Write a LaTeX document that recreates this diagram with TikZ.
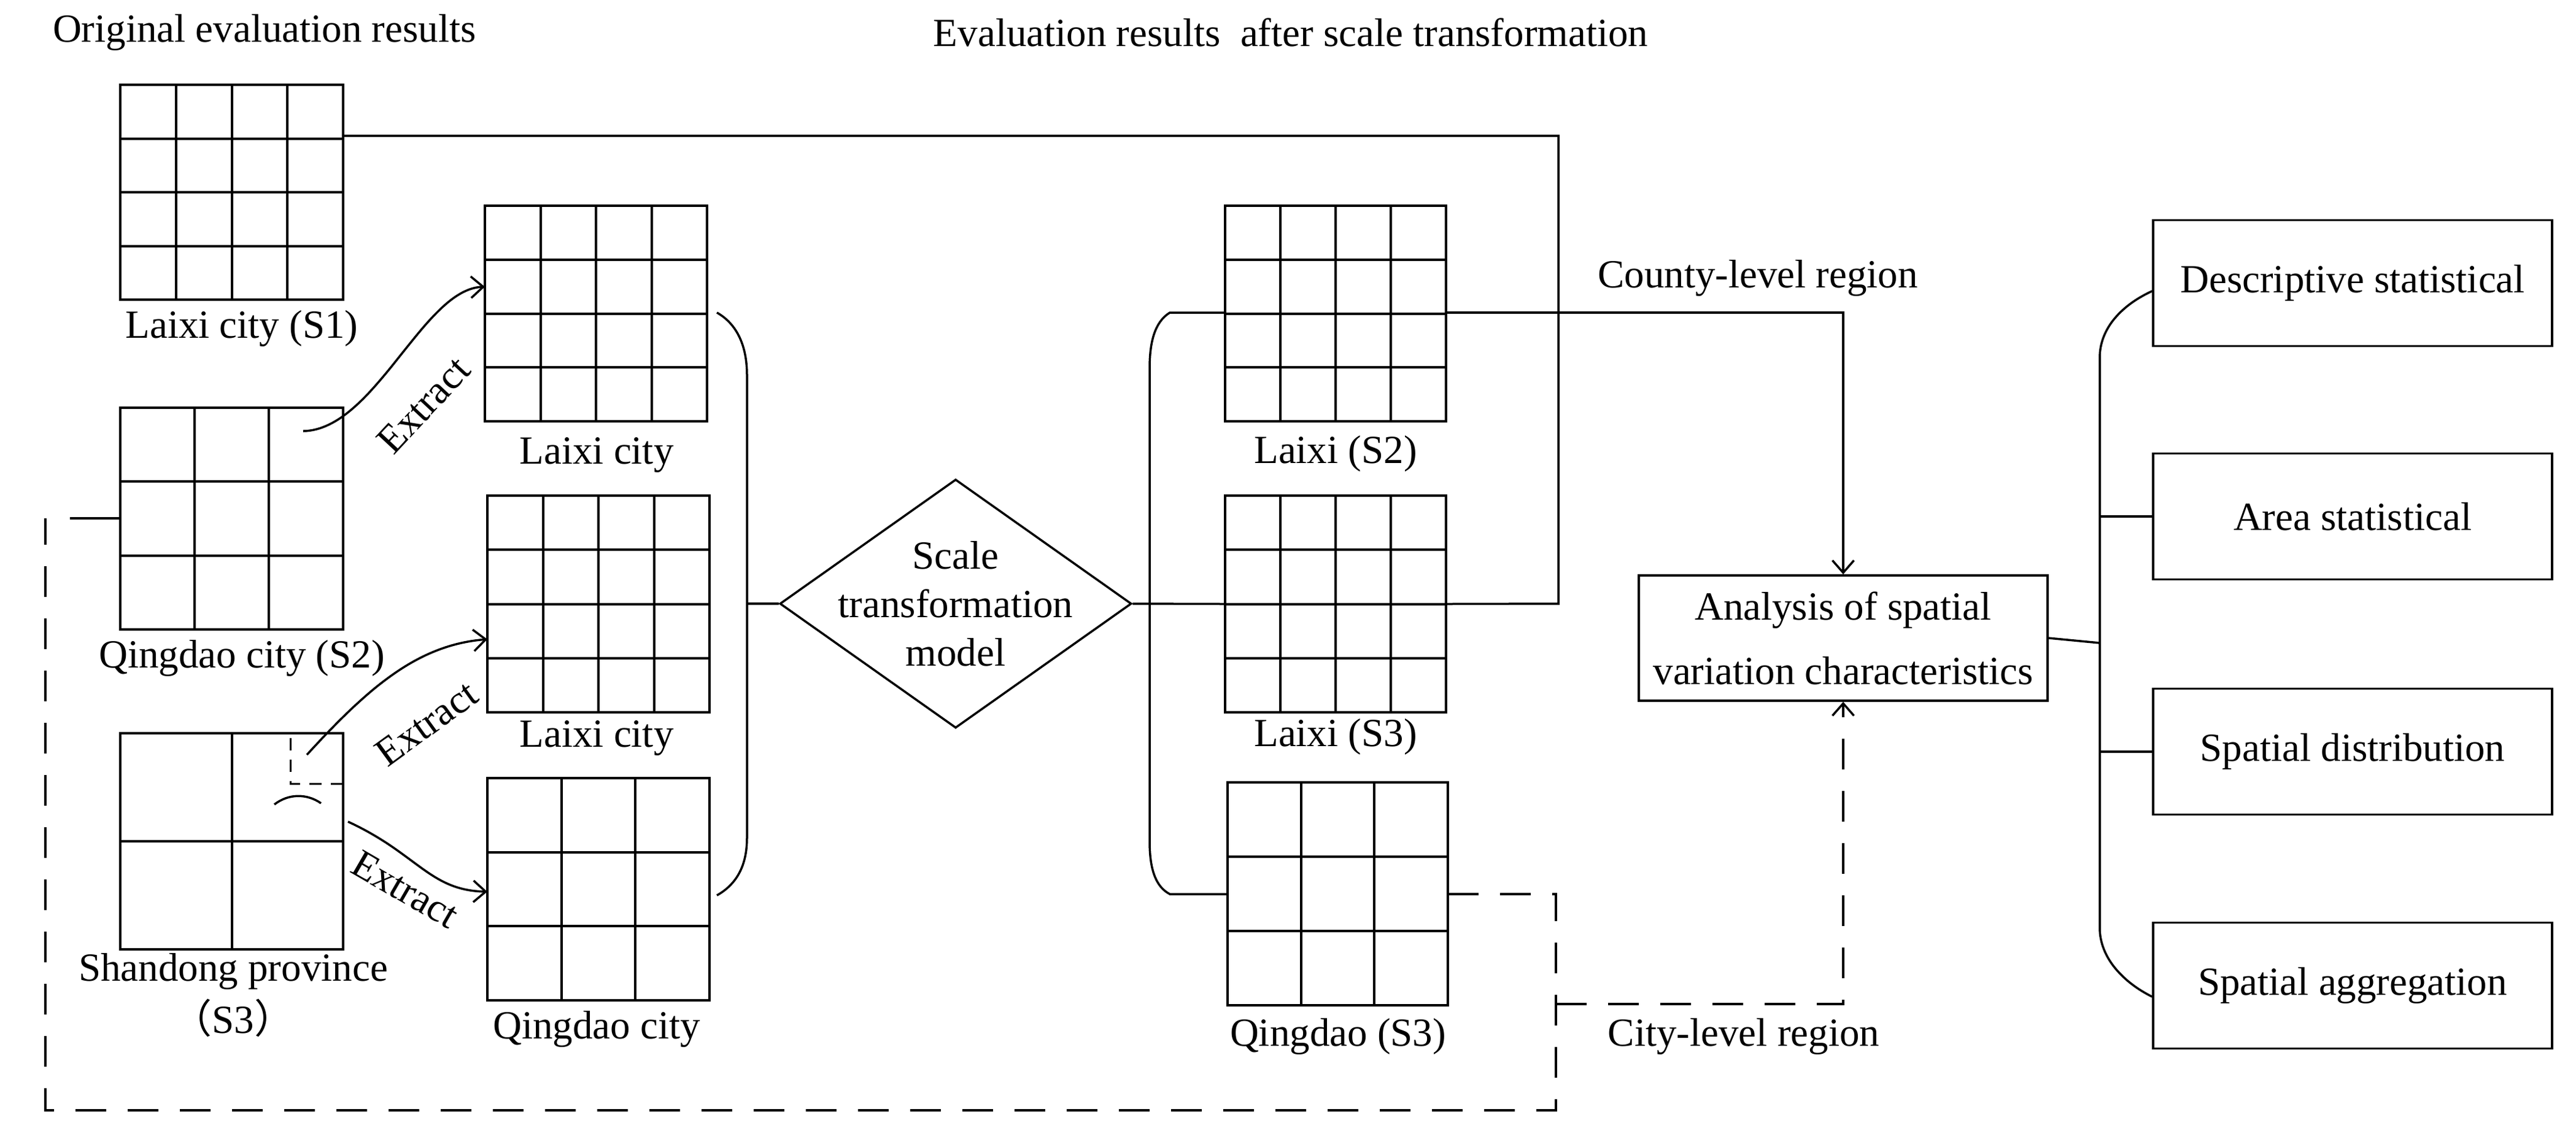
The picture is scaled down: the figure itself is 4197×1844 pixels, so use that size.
\documentclass[tikz,border=0pt]{standalone}
\usepackage{fontspec}
\setmainfont{Liberation Serif}
\newfontfamily\cjkf{Noto Sans CJK SC}
\usetikzlibrary{calc,shapes.geometric,arrows.meta}
\newcommand\gridbox[7]{%
  \node[gridn, minimum width={(#4-#2)*0.2pt}, minimum height={(#5-#3)*0.2pt}] (#1) at ({(#2+#4)/2},{(#3+#5)/2}) {};
  \foreach \i in {1,...,#7}{%
    \draw[gl] ($(#1.north west)!\i/#6!(#1.north east)$) -- ($(#1.south west)!\i/#6!(#1.south east)$);
    \draw[gl] ($(#1.north west)!\i/#6!(#1.south west)$) -- ($(#1.north east)!\i/#6!(#1.south east)$);
  }}
\begin{document}
\begin{tikzpicture}[x=0.2pt,y=-0.2pt,
  every node/.style={font=\fontsize{13}{15}\selectfont},
  gridn/.style={draw,line width=0.8pt,inner sep=0pt,outer sep=0pt},
  gl/.style={line width=0.8pt},
  ln/.style={line width=0.7pt},
  dsh/.style={line width=0.7pt,dash pattern=on 10pt off 7pt},
  arr/.style={-{Straight Barb[length=4pt,width=7pt]}},
  lab/.style={inner sep=1pt},
  box/.style={draw,line width=0.7pt,minimum width=130pt,minimum height=41pt,inner sep=0pt}]
\useasboundingbox (0,0) rectangle (4197,1844);
% titles
\node[lab,anchor=west] (t1) at (80,53) {Original evaluation results};
\node[lab] (t2) at (2103,53) {Evaluation results\ \ after scale transformation};
% left grids
\gridbox{s1}{196}{138}{559}{488}{4}{3}
\node[lab] (s1l) at (394,535) {Laixi city (S1)};
\gridbox{s2}{196}{664}{559}{1025}{3}{2}
\node[lab] (s2l) at (394,1072) {Qingdao city (S2)};
\gridbox{s3}{196}{1194}{559}{1546}{2}{1}
\node[lab] (s3l) at (380,1582) {Shandong province};
\node[lab] (s3l2) at (380,1658) {{\cjkf（}S3{\cjkf）}};
\draw[line width=0.6pt,dash pattern=on 4pt off 3pt] (559,1276) -- (473,1276) -- (473,1194);
\coordinate (e2s) at (500,1229);
% extracted grids
\gridbox{g1}{790}{335}{1152}{686}{4}{3}
\node[lab] (g1l) at (972,741) {Laixi city};
\gridbox{g2}{794}{807}{1156}{1160}{4}{3}
\node[lab] (g2l) at (972,1202) {Laixi city};
\gridbox{g3}{794}{1267}{1156}{1629}{3}{2}
\node[lab] (g3l) at (972,1676) {Qingdao city};
% extract arrows
\coordinate (e1s) at (494,702);
\draw[ln,arr] (e1s) .. controls (610,700) and (690,470) .. (g1.west |- 0,467);
\node[lab,rotate=47] (x1) at (690,660) {Extract};
\draw[ln,arr] (e2s) .. controls (600,1120) and (680,1050) .. (g2.west |- 0,1041);
\node[lab,rotate=36] (x2) at (695,1178) {Extract};
\coordinate (a1) at (447,1310); \coordinate (a2) at (523,1308);
\draw[ln] (a1) .. controls (470,1292) and (500,1292) .. (a2);
\coordinate (e3s) at (567,1338);
\draw[ln,arr] (e3s) .. controls (680,1390) and (700,1450) .. (g3.west |- 0,1452);
\node[lab,rotate=-30,fill=white,inner sep=0pt] (x3) at (660,1448) {Extract};
% left bracket
\draw[ln] (1168,509) .. controls (1205,530) and (1217,570) .. (1217,611) -- (1217,1364)
  .. controls (1217,1410) and (1200,1440) .. (1168,1458);
% diamond
\node[draw,line width=0.7pt,diamond,aspect=1.41,minimum width=114.6pt,minimum height=81pt,inner sep=0pt] (dm) at (1557,983) {};
\node[align=center,font=\fontsize{13}{15.8}\selectfont,inner sep=0pt] (dmt) at (dm.center) {Scale\\transformation\\model};
\draw[ln] (1217,983) -- (dm.west);
% right grids
\gridbox{r1}{1996}{335}{2356}{686}{4}{3}
\node[lab] (r1l) at (2176,739) {Laixi (S2)};
\gridbox{r2}{1996}{807}{2356}{1160}{4}{3}
\node[lab] (r2l) at (2176,1200) {Laixi (S3)};
\gridbox{r3}{2000}{1274}{2359}{1637}{3}{2}
\node[lab] (r3l) at (2180,1688) {Qingdao (S3)};
% right bracket
\draw[ln] (r1.west |- 0,509) -- (1906,509) .. controls (1880,525) and (1873,560) .. (1873,600) -- (1873,1370)
  .. controls (1873,1420) and (1885,1445) .. (1906,1456) -- (r3.west |- 0,1456);
\draw[ln] (dm.east) -- (r2.west);
% top line
\draw[ln] (s1.east |- 0,221) -- (2539,221) -- (2539,983) -- (r2.east);
% analysis
\node[box,minimum width=133.2pt,minimum height=40.8pt,align=center,font=\fontsize{13}{21}\selectfont] (an) at (3003,1039)
  {Analysis of spatial\\variation characteristics};
\draw[ln,arr] (r1.east |- 0,509) -- (3003,509) -- (an.north);
\node[lab] (cl) at (2864,453) {County-level region};
\draw[dsh] (r3.east |- 0,1456) -- (2535,1456) -- (2535,1808) -- (74,1808) -- (74,844);
\coordinate (st) at (114,844);
\draw[ln] (st) -- (s2.west |- 0,844);
\draw[dsh,arr] (2535,1635) -- (3003,1635) -- (an.south);
\node[lab] (ctl) at (2841,1688) {City-level region};
% right boxes
\node[box] (b1) at (3833,461) {Descriptive statistical};
\node[box] (b2) at (3833,841) {Area statistical};
\node[box] (b3) at (3833,1224) {Spatial distribution};
\node[box] (b4) at (3833,1605) {Spatial aggregation};
\draw[ln] (an.east) -- (3421,1047);
\draw[ln] (b1.west |- 0,474) .. controls (3450,500) and (3421,540) .. (3421,582) -- (3421,1511)
  .. controls (3421,1560) and (3460,1600) .. (b4.west |- 0,1623);
\draw[ln] (3421,841) -- (b2.west);
\draw[ln] (3421,1224) -- (b3.west);
\end{tikzpicture}
\end{document}
